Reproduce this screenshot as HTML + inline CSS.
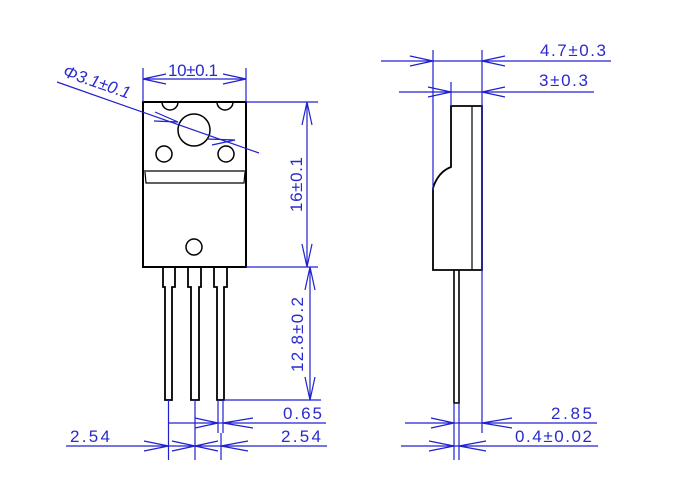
<!DOCTYPE html>
<html><head><meta charset="utf-8"><style>
html,body{margin:0;padding:0;background:#fff}
svg{display:block}
text{font-family:"Liberation Sans",sans-serif;fill:#2a2acc;font-size:17px}
</style></head><body>
<svg width="680" height="500" viewBox="0 0 680 500" xmlns="http://www.w3.org/2000/svg">
<g fill="none" stroke="#000" stroke-width="2">
<rect x="143" y="102" width="103" height="165"/>
<path d="M162 102 a8 8 0 0 0 16 0 M217 102 a8 8 0 0 0 16 0" stroke-width="1.5"/>
<circle cx="194" cy="130" r="16" stroke-width="1.5"/>
<circle cx="164" cy="154" r="8" stroke-width="1.5"/>
<circle cx="226" cy="154" r="8" stroke-width="1.5"/>
<circle cx="194" cy="247" r="8" stroke-width="1.5"/>
<line x1="143" y1="171" x2="246" y2="171" stroke-width="1.2"/>
<path d="M145 172 L146 183 L244 183 L245 172" stroke-width="1.2"/>
<path d="M163 267 V287 H165 V400 H172 V287 H175 V267" stroke-width="1.8"/>
<path d="M188 267 V287 H191 V400 H199 V287 H201 V267" stroke-width="1.8"/>
<path d="M214 267 V287 H217 V400 H224 V287 H227 V267" stroke-width="1.8"/>
<path d="M451 106 L482 106 L482 270 L433 270 L433 188 Q438 172 451 167 Z" stroke-width="1.8"/>
<line x1="472" y1="106" x2="472" y2="270" stroke-width="1.2"/>
<path d="M454 270 V403 H459 V270" stroke-width="1.6"/>
</g>
<g fill="none" stroke="#2020d0" stroke-width="1.2">
<line x1="143" y1="68" x2="143" y2="102"/><line x1="246" y1="68" x2="246" y2="102"/>
<line x1="143" y1="79" x2="246" y2="79"/>
<path d="M166 74 L143 79 L166 84 M223 74 L246 79 L223 84"/>
<line x1="57" y1="82" x2="259" y2="153"/>
<path d="M155 112 L178 122 L154 121 M207 139 L235 140 L212 145"/>
<line x1="246" y1="102" x2="318" y2="102"/><line x1="246" y1="267" x2="318" y2="267"/>
<line x1="307" y1="102" x2="307" y2="267"/>
<path d="M302 125 L307 102 L312 125 M302 244 L307 267 L312 244"/>
<line x1="224" y1="400" x2="321" y2="400"/>
<line x1="310" y1="267" x2="310" y2="400"/>
<path d="M305 290 L310 267 L315 290 M305 377 L310 400 L315 377"/>
<line x1="168.5" y1="400" x2="168.5" y2="460"/>
<line x1="195" y1="400" x2="195" y2="460"/>
<line x1="218" y1="400" x2="218" y2="433"/>
<line x1="223" y1="400" x2="223" y2="433"/>
<line x1="221" y1="433" x2="221" y2="460"/>
<line x1="168" y1="423" x2="326" y2="423"/>
<path d="M195 418 L218 423 L195 428 M253 418 L223 423 L253 428"/>
<line x1="66" y1="446" x2="327" y2="446"/>
<path d="M144 441 L168.5 446 L144 451 M172 441 L195 446 L172 451 M218 441 L195 446 L218 451 M248 441 L221 446 L248 451"/>
<line x1="433" y1="50" x2="433" y2="190"/>
<line x1="482" y1="50" x2="482" y2="433"/>
<line x1="381" y1="61" x2="611" y2="61"/>
<path d="M410 56 L433 61 L410 66 M505 56 L482 61 L505 66"/>
<line x1="451" y1="82" x2="451" y2="106"/>
<line x1="399" y1="92" x2="594" y2="92"/>
<path d="M428 87 L451 92 L428 97 M505 87 L482 92 L505 97"/>
<line x1="454" y1="403" x2="454" y2="460"/>
<line x1="459" y1="403" x2="459" y2="460"/>
<line x1="405" y1="423" x2="597" y2="423"/>
<path d="M431 418 L454 423 L431 428 M512 418 L482 423 L512 428"/>
<line x1="401" y1="446" x2="598" y2="446"/>
<path d="M429 441 L454 446 L429 451 M486 441 L459 446 L486 451"/>
</g>
<text x="168" y="76" textLength="50">10±0.1</text>
<text x="0" y="0" transform="translate(62,76) rotate(19)" font-style="italic" textLength="70">Φ3.1±0.1</text>
<text x="0" y="0" transform="translate(302,212) rotate(-90)" textLength="55">16±0.1</text>
<text x="0" y="0" transform="translate(303,372) rotate(-90)" textLength="75">12.8±0.2</text>
<text x="283" y="419" textLength="39">0.65</text>
<text x="281" y="442" textLength="40">2.54</text>
<text x="70" y="442" textLength="40">2.54</text>
<text x="540" y="56" textLength="66">4.7±0.3</text>
<text x="539" y="86" textLength="49">3±0.3</text>
<text x="551" y="419" textLength="41">2.85</text>
<text x="515" y="442" textLength="77">0.4±0.02</text>
</svg>
</body></html>
